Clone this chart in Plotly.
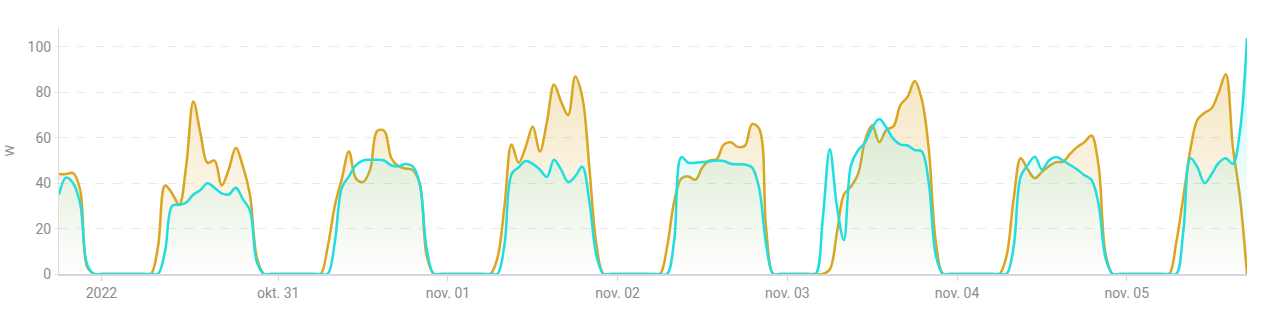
import pandas as pd
import plotly.graph_objects as go

# hourly timestamps (UTC), 2022-10-29 16:00 .. 2022-11-05 16:00
times = pd.date_range("2022-10-29 16:00", periods=169, freq="h")

yellow = [
    44, 44, 44.5, 37, 3, 0,
    0, 0, 0, 0, 0, 0, 0, 0,
    12, 39, 35.5, 30.5, 48, 76, 62, 49, 50, 39, 46, 55.5, 47.5, 35, 7,
    0, 0, 0, 0, 0, 0, 0, 0, 0,
    12, 30, 42, 54, 42, 40.5, 46, 63, 63, 51, 47.5, 46.5, 45.8, 40, 8,
    0, 0, 0, 0, 0, 0, 0, 0, 0,
    7, 30, 57, 49, 56, 65, 54, 67, 83.5, 76, 70, 87, 78, 47, 13,
    0, 0, 0, 0, 0, 0, 0, 0, 0,
    12, 32, 42, 43, 41.5, 47, 50, 50.5, 57, 58, 56, 56.5, 66, 64, 20,
    0, 0, 0, 0, 0, 0, 0, 0,
    2, 18, 35, 38.5, 44, 59, 65.5, 58, 63.5, 65, 74.5, 78, 85, 77, 55, 14,
    0, 0, 0, 0, 0, 0, 0, 0, 0,
    8, 33, 51, 46, 42.2, 45, 47.5, 49.3, 49.5, 53, 56, 58, 61, 48, 9,
    0, 0, 0, 0, 0, 0, 0, 0, 0,
    14, 34, 55, 68, 71, 73, 80, 88, 56, 34, 0,
]

cyan = [
    35, 42.5, 40, 31, 4, 0,
    0, 0, 0, 0, 0, 0, 0, 0, 0,
    10, 30, 30.5, 31.5, 35, 37, 40, 38, 35.5, 35, 38, 33, 28, 5,
    0, 0, 0, 0, 0, 0, 0, 0, 0, 0,
    14, 38, 43, 48, 50, 50.3, 50.3, 50, 47.8, 47.5, 48.5, 47.5, 40, 11,
    0, 0, 0, 0, 0, 0, 0, 0, 0, 0,
    13, 44, 47, 49.8, 48.5, 46, 42.8, 50.3, 46, 40.5, 43, 47.3, 32, 8,
    0, 0, 0, 0, 0, 0, 0, 0, 0, 0,
    15, 51.5, 49, 49, 49.3, 49.6, 50, 49.8, 48.6, 48.3, 48.2, 47, 38, 13,
    0, 0, 0, 0, 0, 0, 0,
    24, 55, 30, 15, 48, 54.5, 58, 64.5, 68.3, 64.5, 59.5, 57, 56.6, 54.6, 54, 40, 8,
    0, 0, 0, 0, 0, 0, 0, 0, 0, 0,
    12, 43, 48, 51.7, 46, 50, 51.5, 50, 48, 46, 43.5, 41.5, 31, 7,
    0, 0, 0, 0, 0, 0, 0, 0, 0, 0,
    19, 51, 47, 40, 44, 49, 51, 48.5, 63, 104,
]

# local midnights (CEST/CET) expressed in UTC
tick_vals = ["2022-10-29 22:00", "2022-10-30 23:00", "2022-10-31 23:00",
             "2022-11-01 23:00", "2022-11-02 23:00", "2022-11-03 23:00",
             "2022-11-04 23:00"]
tick_text = ["2022", "okt. 31", "nov. 01", "nov. 02", "nov. 03", "nov. 04", "nov. 05"]

YELLOW = "rgb(218,165,32)"
CYAN = "rgb(34,221,221)"

fig = go.Figure()
fig.add_trace(go.Scatter(
    x=times, y=yellow, mode="lines",
    line=dict(color=YELLOW, width=2.5, shape="spline", smoothing=1),
    fill="tozeroy",
    fillgradient=dict(type="vertical", start=0, stop=90,
                      colorscale=[[0, "rgba(218,165,32,0.0)"], [1, "rgba(218,165,32,0.28)"]]),
    hoverinfo="skip", showlegend=False,
))
fig.add_trace(go.Scatter(
    x=times, y=cyan, mode="lines",
    line=dict(color=CYAN, width=2.5, shape="spline", smoothing=1),
    fill="tozeroy",
    fillgradient=dict(type="vertical", start=0, stop=104,
                      colorscale=[[0, "rgba(34,221,221,0.0)"], [1, "rgba(34,221,221,0.22)"]]),
    hoverinfo="skip", showlegend=False,
))

fig.update_layout(
    width=1282, height=312,
    margin=dict(l=59, r=35, t=27, b=38),
    paper_bgcolor="white", plot_bgcolor="white",
    font=dict(family="Roboto, sans-serif", size=14, color="#8c8c8c"),
    annotations=[dict(text="W", textangle=-90, xref="paper", yref="paper",
                      x=-0.042, y=0.5, xanchor="center", yanchor="middle",
                      showarrow=False, font=dict(size=13, color="#8c8c8c"))],
)
fig.update_xaxes(
    range=[times[0], times[-1]],
    tickvals=tick_vals, ticktext=tick_text,
    showgrid=False, zeroline=False,
    showline=True, linecolor="#d6d6de", linewidth=2,
    ticks="outside", ticklen=5, tickcolor="#d6d6de", tickwidth=1,
)
fig.update_yaxes(
    range=[0, 108.8],
    tickvals=[0, 20, 40, 60, 80, 100],
    showgrid=True, gridcolor="#e9e9e9", griddash="dash", gridwidth=1,
    zeroline=False,
    showline=True, linecolor="#dddddd", linewidth=1,
    ticks="outside", ticklen=4, tickcolor="#e9e9e9",
)

fig.write_html("out.html")
